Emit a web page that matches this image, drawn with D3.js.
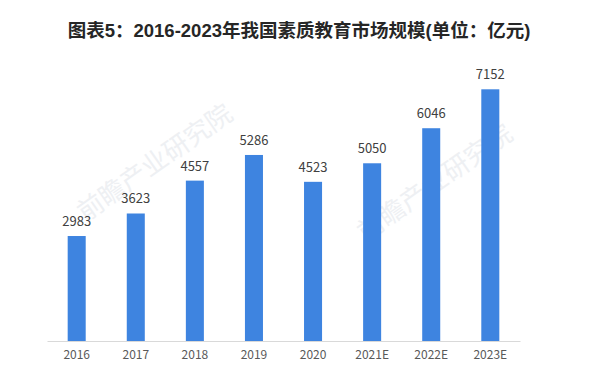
<!DOCTYPE html>
<html><head><meta charset="utf-8">
<script src="https://cdn.jsdelivr.net/npm/d3@7/dist/d3.min.js"></script>
<style>body{margin:0;background:#fff}svg{display:block}</style>
</head><body>
<script>
const categories = ["2016","2017","2018","2019","2020","2021E","2022E","2023E"];
const values = [2983,3623,4557,5286,4523,5050,6046,7152];
const title = "图表5：2016-2023年我国素质教育市场规模(单位：亿元)";

const W = 600, H = 371;
const svg = d3.select("body").append("svg").attr("width", W).attr("height", H);
svg.append("rect").attr("width", W).attr("height", H).attr("fill", "#fff");

// faint watermark
const wm = svg.append("g").attr("fill", "#eef0f3").attr("font-family", "Noto Sans CJK SC");
[[160,170],[440,190]].forEach(([x,y])=>{
  wm.append("text").attr("transform", `translate(${x},${y}) rotate(-35)`).attr("font-size", 26)
    .attr("text-anchor","middle").text("前瞻产业研究院");
});

const x = d3.scaleBand().domain(categories).range([47, 520]).paddingInner(0.695).paddingOuter(0.35);
const y = d3.scaleLinear().domain([0, 7152]).range([341, 89.3]);

svg.append("text").attr("x", 299).attr("y", 37).attr("text-anchor", "middle")
  .attr("font-family", "Liberation Sans, Noto Sans CJK SC, sans-serif").attr("font-weight", "bold")
  .attr("font-size", 18.5).attr("fill", "#262626").text(title);

svg.selectAll("rect.bar").data(values).join("rect").attr("class","bar")
  .attr("x", (d,i)=>x(categories[i])).attr("width", x.bandwidth())
  .attr("y", d=>y(d)).attr("height", d=>y(0)-y(d)).attr("fill", "#3e84e0");

svg.selectAll("text.lbl").data(values).join("text").attr("class","lbl")
  .attr("x", (d,i)=>x(categories[i])+x.bandwidth()/2).attr("y", d=>y(d)-10)
  .attr("text-anchor","middle").attr("font-family","Noto Sans CJK SC, sans-serif")
  .attr("font-size", 13).attr("fill","#404040").text(d=>d);

const ax = svg.append("g").attr("transform", `translate(0,${y(0)})`)
  .call(d3.axisBottom(x).tickSize(0).tickPadding(9));
ax.select(".domain").attr("stroke", "#d9d9d9").attr("stroke-width", 1.2);
ax.selectAll("text").attr("font-family","Noto Sans CJK SC, sans-serif").attr("font-size", 12).attr("fill","#595959");
</script>
</body></html>
